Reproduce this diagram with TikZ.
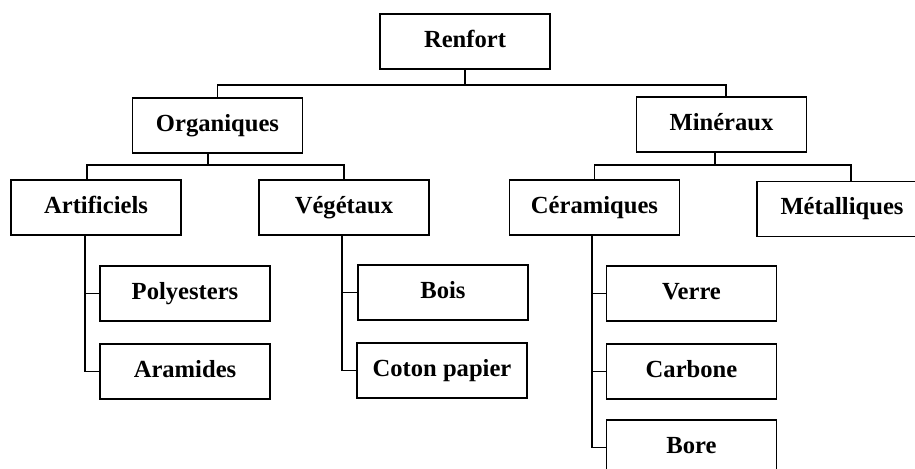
\documentclass[tikz,border=0pt]{standalone}
\usepackage{fontspec}
\setmainfont{Liberation Serif}
\usepackage{tikz}
\usetikzlibrary{positioning,calc}
\tikzstyle{catbox} = [draw, rectangle, line width=0.95pt, minimum width=85pt,
    minimum height=27.5pt, inner sep=0pt, text height=8.5pt, text depth=2.5pt,
    font=\fontsize{12.3}{14}\selectfont\bfseries]
\tikzstyle{link} = [draw, line width=0.95pt]

\begin{document}
\begin{tikzpicture}[x=0.5pt,y=-0.5pt]
\useasboundingbox (0,0) rectangle (915,469);
\clip (0,0) rectangle (915,469);
\node [catbox] (renfort) at (465,41.5) {Renfort};
\node [catbox] (orga) at (217.5,125.5) {Organiques};
\node [catbox] (mine) at (721.5,124.5) {Minéraux};
\node [catbox] (artif) at (96,207.5) {Artificiels};
\node [catbox] (vege) at (344,207.5) {Végétaux};
\node [catbox] (ceram) at (594.5,207.5) {Céramiques};
\node [catbox] (metal) at (842,209) {Métalliques};
\node [catbox] (poly) at (185,293.5) {Polyesters};
\node [catbox] (arami) at (185,371.5) {Aramides};
\node [catbox] (bois) at (443,292.5) {Bois};
\node [catbox] (coton) at (442,370.5) {Coton papier};
\node [catbox] (verre) at (691.5,293.5) {Verre};
\node [catbox] (carb) at (691.5,371.5) {Carbone};
\node [catbox] (bore) at (691.5,447.5) {Bore};

\draw [link] (renfort.south) -- ++(0,15) coordinate (r1);
\draw [link] (orga.north) |- (r1) -| ($(mine.north)+(4.5,0)$);
\draw [link] ($(orga.south)+(-9.5,0)$) -- ++(0,11) coordinate (o1);
\draw [link] ($(artif.north)+(-9,0)$) |- (o1) -| (vege.north);
\draw [link] ($(mine.south)+(-6.5,0)$) -- ++(0,12) coordinate (m1);
\draw [link] (ceram.north) |- (m1) -| ($(metal.north)+(9,0)$);
%\draw [link] (artif.south) -- (arami.west);
\draw [link] ($(artif.south)+(-11,0)$) |- (poly.west);
\draw [link] ($(artif.south)+(-11,0)$) |- (arami.west);
\draw [link] ($(vege.south)+(-2,0)$) |- (bois.west);
\draw [link] ($(vege.south)+(-2,0)$) |- (coton.west);
\draw [link] ($(ceram.south)+(-2.5,0)$) |- (verre.west);
\draw [link] ($(ceram.south)+(-2.5,0)$) |- (carb.west);
\draw [link] ($(ceram.south)+(-2.5,0)$) |- (bore.west);
\end{tikzpicture}
\end{document}
